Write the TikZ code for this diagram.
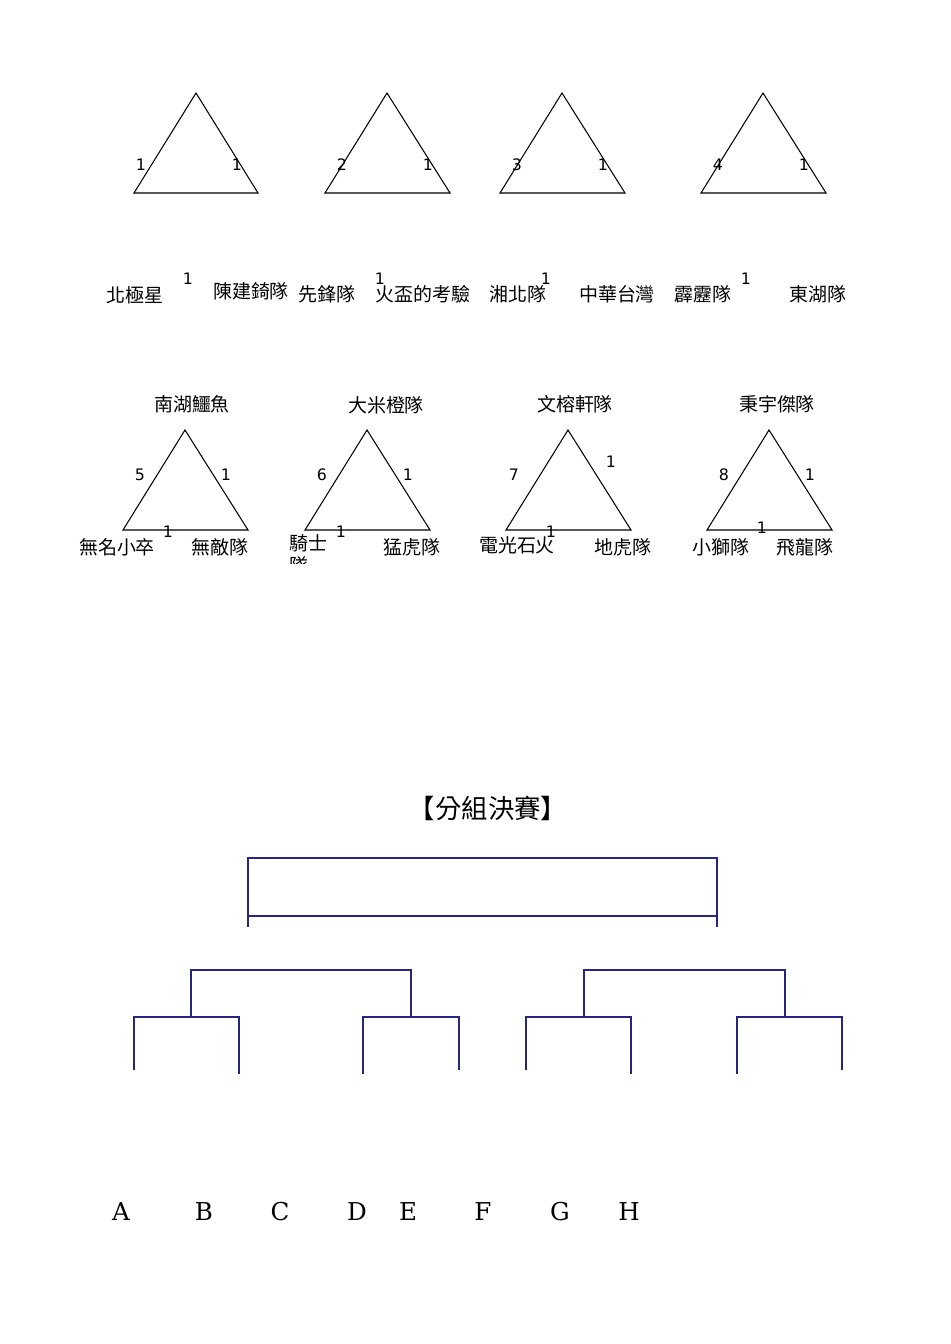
\documentclass[tikz,border=0pt]{standalone}
\usepackage{fontspec}
\setmainfont{DejaVu Sans}
\newfontfamily\cjk{Noto Sans CJK TC}
\newfontfamily\slotfont{DejaVu Serif}
\definecolor{bracketblue}{RGB}{38,38,128}

\begin{document}
\begin{tikzpicture}[x=0.02cm, y=-0.02cm,
  team/.style={font=\cjk\fontsize{10.8}{12.5}\selectfont, inner sep=0pt},
  score/.style={font=\fontsize{9}{10}\selectfont, inner sep=0pt},
  tri/.style={draw, line width=0.6pt, line join=miter},
  br/.style={draw=bracketblue, line width=0.8pt},
  slot/.style={font=\slotfont\fontsize{14}{16}\selectfont, inner sep=0pt}
]
\useasboundingbox (0,0) rectangle (950,1344);

% group round, first row
\draw[tri] (196,93) -- (258,193) -- (134,193) -- cycle;
\draw[tri] (387,93) -- (450,193) -- (325,193) -- cycle;
\draw[tri] (562,93) -- (625,193) -- (500,193) -- cycle;
\draw[tri] (763,93) -- (826,193) -- (701,193) -- cycle;

\node[score] (s1l) at (141,165) {1};
\node[score] (s1r) at (237,165) {1};
\node[score] (s2l) at (342,165) {2};
\node[score] (s2r) at (428,165) {1};
\node[score] (s3l) at (517,165) {3};
\node[score] (s3r) at (603,165) {1};
\node[score] (s4l) at (718,165) {4};
\node[score] (s4r) at (804,165) {1};

\node[team] (beiji) at (135,295) {北極星};
\node[score] (s1b) at (188,279) {1};
\node[team] (chen) at (251,291) {陳建錡隊};
\node[team] (xianfeng) at (327,294) {先鋒隊};
\node[score] (s2b) at (380,279) {1};
\node[team] (huobei) at (423,294) {火盃的考驗};
\node[team] (xiangbei) at (518,294) {湘北隊};
\node[score] (s3b) at (546,279) {1};
\node[team] (zhonghua) at (617,294) {中華台灣};
\node[team] (pili) at (703,294) {霹靂隊};
\node[score] (s4b) at (746,279) {1};
\node[team] (donghu) at (818,294) {東湖隊};

% group round, second row
\draw[tri] (185,430) -- (248,530) -- (123,530) -- cycle;
\draw[tri] (367,430) -- (430,530) -- (305,530) -- cycle;
\draw[tri] (568,430) -- (631,530) -- (506,530) -- cycle;
\draw[tri] (769,430) -- (832,530) -- (707,530) -- cycle;

\node[team] (nanhu) at (192,404) {南湖鱷魚};
\node[score] (s5l) at (140,475) {5};
\node[score] (s5r) at (226,475) {1};
\node[score] (s5b) at (168,532) {1};
\node[team] (wuming) at (117,547) {無名小卒};
\node[team] (wudi) at (220,547) {無敵隊};

\node[team] (dami) at (386,405) {大米橙隊};
\node[score] (s6l) at (322,475) {6};
\node[score] (s6r) at (408,475) {1};
\node[score] (s6b) at (341,532) {1};
\begin{scope}
  \clip (280,530) rectangle (340,563);
  \node[team, align=left, anchor=west] (qishi) at (289,554) {騎士\\隊};
\end{scope}
\node[team] (menghu) at (412,547) {猛虎隊};

\node[team] (wenrong) at (575,404) {文榕軒隊};
\node[score] (s7l) at (514,475) {7};
\node[score] (s7r) at (611,462) {1};
\node[score] (s7b) at (551,532) {1};
\node[team] (dianguang) at (517,545) {電光石火};
\node[team] (dihu) at (623,547) {地虎隊};

\node[team] (bingyu) at (777,404) {秉宇傑隊};
\node[score] (s8l) at (724,475) {8};
\node[score] (s8r) at (810,475) {1};
\node[score] (s8b) at (762,528) {1};
\node[team] (xiaoshi) at (721,547) {小獅隊};
\node[team] (feilong) at (805,547) {飛龍隊};

% group final bracket
\node[font=\cjk\fontsize{15}{18}\selectfont, inner sep=0pt] (title) at (488,808) {【分組決賽】};

\draw[br] (248,927) -- (248,858) -- (717,858) -- (717,927);
\draw[br] (248,916) -- (717,916);

\draw[br] (191,1017) -- (191,970) -- (411,970) -- (411,1017);
\draw[br] (584,1017) -- (584,970) -- (785,970) -- (785,1017);

\draw[br] (134,1070) -- (134,1017) -- (239,1017) -- (239,1074);
\draw[br] (363,1074) -- (363,1017) -- (459,1017) -- (459,1070);
\draw[br] (526,1070) -- (526,1017) -- (631,1017) -- (631,1074);
\draw[br] (737,1074) -- (737,1017) -- (842,1017) -- (842,1070);

\node[slot] (sa) at (121,1212) {A};
\node[slot] (sb) at (204,1212) {B};
\node[slot] (sc) at (280,1212) {C};
\node[slot] (sd) at (357,1212) {D};
\node[slot] (se) at (408,1212) {E};
\node[slot] (sf) at (483,1212) {F};
\node[slot] (sg) at (560,1212) {G};
\node[slot] (sh) at (629,1212) {H};
\end{tikzpicture}
\end{document}
